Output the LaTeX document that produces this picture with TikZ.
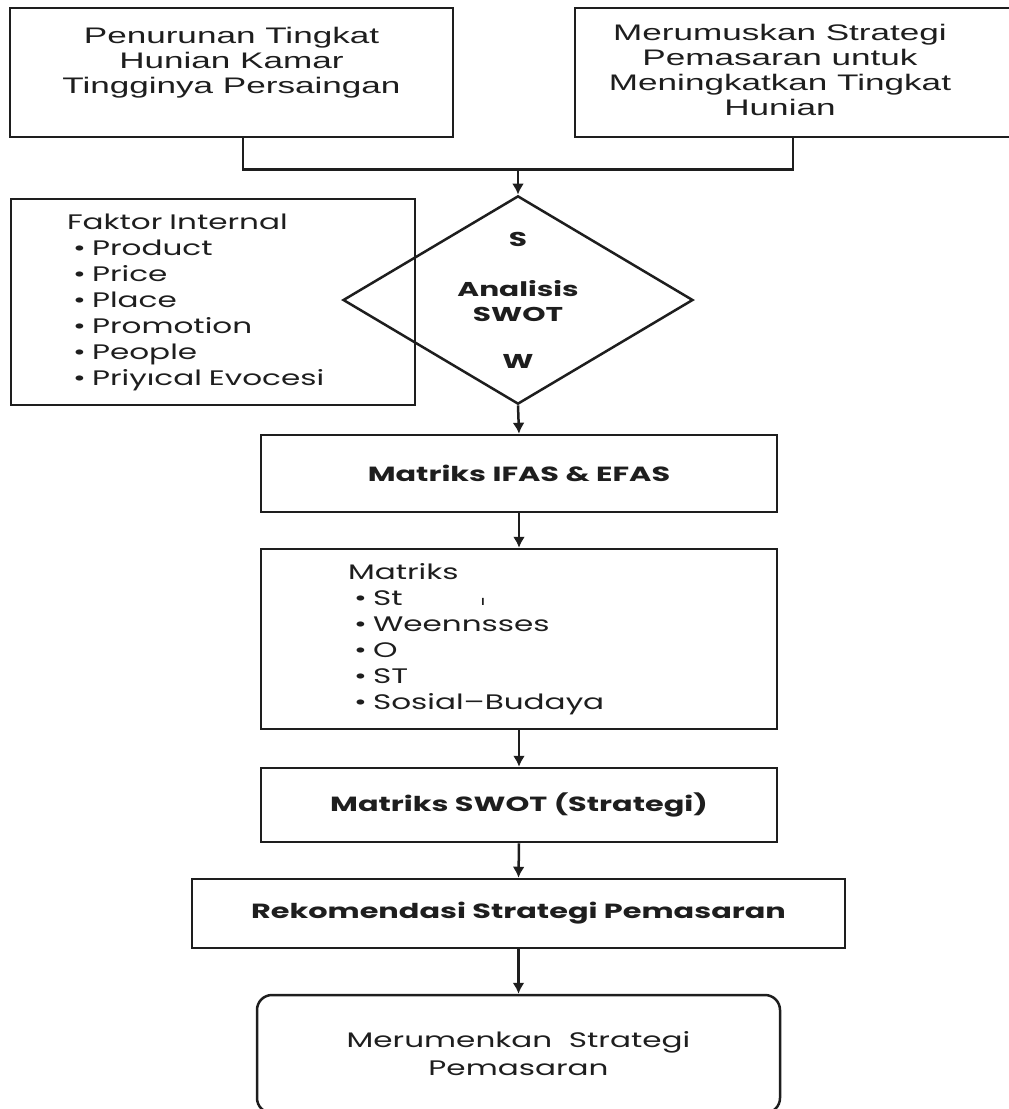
\documentclass[tikz,border=0pt]{standalone}
\usepackage{fontspec}
\setmainfont{Poppins}[FakeStretch=1.48]
\newfontfamily\topfont{Liberation Sans}[FakeStretch=1.56]
\usetikzlibrary{shapes,arrows,arrows.meta,positioning}
\definecolor{ink}{HTML}{1E1E1E}
\tikzstyle{probbox} = [draw=ink, line width=2.5pt, text=ink, align=center, inner sep=0pt, minimum height=129pt, font=\topfont\fontsize{22.5}{25}\selectfont]
\tikzstyle{listbox} = [draw=ink, line width=2.5pt, text=ink, align=left, font=\fontsize{21}{26}\selectfont]
\tikzstyle{swotbox} = [draw=ink, line width=2.5pt, text=ink, diamond, aspect=1.68, inner sep=0pt, minimum width=346pt, minimum height=206pt, align=center, font=\bfseries\fontsize{20}{25}\selectfont]
\tikzstyle{stagebox} = [draw=ink, line width=2.5pt, text=ink, text centered, minimum width=516pt, font=\bfseries\fontsize{20.5}{25}\selectfont]
\tikzstyle{finalbox} = [draw=ink, line width=2.5pt, text=ink, align=center, rounded corners=15pt, minimum width=523pt, minimum height=118pt, font=\fontsize{21}{28}\selectfont]
\tikzstyle{arrow} = [draw, line width=2.5pt, color=ink, -{Latex[length=11pt,width=12pt]}]
\tikzstyle{line} = [draw, line width=2.5pt, color=ink]
\newcommand{\probbox}[3]{node (b#1) [probbox,#2] {#3}}
\newcommand{\listbox}[3]{node (l#1) [listbox,#2] {#3}}
\newcommand{\swotbox}[2]{node (s#1) [swotbox] {#2}}
\newcommand{\stagebox}[3]{node (m#1) [stagebox,#2] {#3}}
\newcommand{\finalbox}[2]{node (e#1) [finalbox] {#2}}
\newcommand{\itm}[1]{\hspace*{6pt}\textbullet\hspace{0.3em}#1}

\begin{document}
\begin{tikzpicture}[x=1pt,y=1pt]
\useasboundingbox (0,0) rectangle (1009,-1109);
\path (231.5,-72.5) \probbox{1}{minimum width=443pt}{Penurunan Tingkat\\Hunian Kamar\\Tingginya Persaingan\\\mbox{}};
\path (b1)+(561.5,0.0) \probbox{2}{minimum width=436pt}{\hspace*{-26pt}\raisebox{-4pt}{\begin{tabular}{@{}c@{}}Merumuskan Strategi\\Pemasaran untuk\\Meningkatkan Tingkat\\Hunian\end{tabular}}};
\path (b1)+(286.5,-227.5) \swotbox{1}{S\\[25pt]Analisis\\SWOT\\[22pt]W};
\coordinate (j) at ([yshift=-31pt]s1.north |- b1.south);
\path [line] ([xshift=11.5pt]b1.south) |- (j) -| (b2.south);
\path [arrow] (j) -- (s1.north) node[] {};

\path (s1)+(-305.0,-2.0) \listbox{1}{text width=292pt, inner xsep=56pt, minimum height=206pt}{Faktor Internal\\\itm{Product}\\\itm{Price}\\\itm{Place}\\\itm{Promotion}\\\itm{People}\\\itm{Priyıcal Evocesi}};

\path (s1)+(1.0,-173.5) \stagebox{1}{minimum height=77pt}{Matriks IFAS \& EFAS};
\path [arrow] (s1.south) -- (m1.north) node[] {};

\path (m1)+(0.0,-165.5) \listbox{2}{text width=342pt, inner xsep=87pt, minimum height=180pt}{Matriks\\\itm{St\hspace{78pt}{\fontsize{13}{13}\selectfont ı}}\\\itm{Weennsses}\\\itm{O}\\\itm{ST}\\\itm{Sosial–Budaya}};
\path [arrow] (m1.south) -- (l2.north) node[] {};

\path (l2)+(0.0,-166.0) \stagebox{2}{minimum height=74pt}{Matriks SWOT (Strategi)};
\path [arrow] (l2.south) -- (m2.north) node[] {};

\path (m2)+(-0.5,-108.5) \stagebox{3}{minimum width=653pt, minimum height=69pt}{Rekomendasi Strategi Pemasaran};
\path [arrow] (m2.south) -- (m3.north) node[] {};

\path (m3)+(0.0,-140.5) \finalbox{1}{Merumenkan\ \ Strategi\\Pemasaran};
\path [arrow] (m3.south) -- (e1.north) node[] {};
\end{tikzpicture}
\end{document}
